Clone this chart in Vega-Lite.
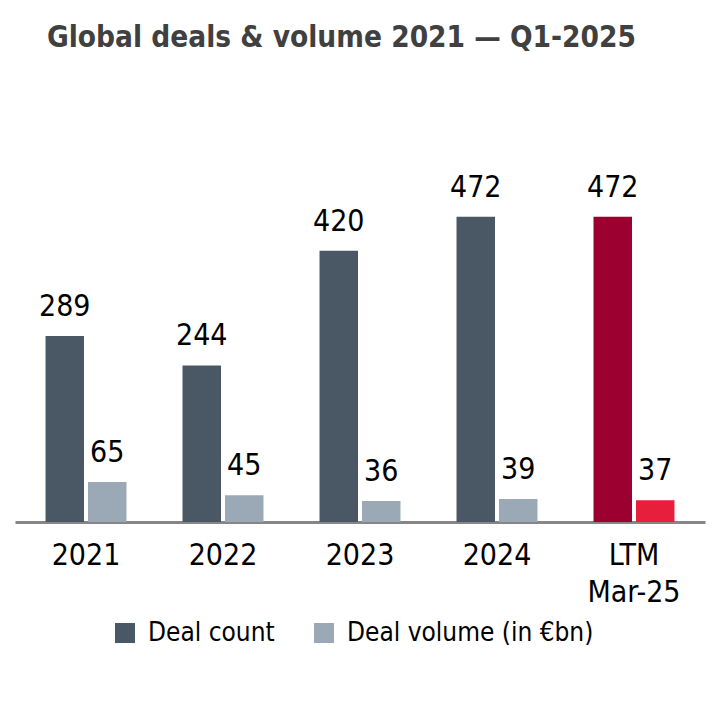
{
  "$schema": "https://vega.github.io/schema/vega-lite/v6.json",
  "width": 690,
  "height": 400,
  "autosize": "none",
  "padding": {"left": 15, "top": 122, "right": 18, "bottom": 197},
  "background": "white",
  "title": {
    "text": "Global deals & volume 2021 — Q1-2025",
    "anchor": "start",
    "frame": "group",
    "dx": 32,
    "offset": 46,
    "baseline": "alphabetic",
    "font": "DejaVu Sans Condensed, DejaVu Sans",
    "fontSize": 29.5,
    "fontWeight": "bold",
    "color": "#404040"
  },
  "config": {"view": {"stroke": null}},
  "data": {
    "values": [
      {"cat": "2021", "series": "Deal count", "key": "Deal count", "value": 289},
      {"cat": "2021", "series": "Deal volume (in €bn)", "key": "Deal volume (in €bn)", "value": 65},
      {"cat": "2022", "series": "Deal count", "key": "Deal count", "value": 244},
      {"cat": "2022", "series": "Deal volume (in €bn)", "key": "Deal volume (in €bn)", "value": 45},
      {"cat": "2023", "series": "Deal count", "key": "Deal count", "value": 420},
      {"cat": "2023", "series": "Deal volume (in €bn)", "key": "Deal volume (in €bn)", "value": 36},
      {"cat": "2024", "series": "Deal count", "key": "Deal count", "value": 472},
      {"cat": "2024", "series": "Deal volume (in €bn)", "key": "Deal volume (in €bn)", "value": 39},
      {"cat": "LTM Mar-25", "series": "Deal count", "key": "LTM deal count", "value": 472},
      {"cat": "LTM Mar-25", "series": "Deal volume (in €bn)", "key": "LTM deal volume", "value": 37}
    ]
  },
  "encoding": {
    "x": {
      "field": "cat",
      "type": "nominal",
      "sort": null,
      "scale": {"paddingInner": 0.409, "paddingOuter": 0.2228},
      "axis": {
        "title": null,
        "labelAngle": 0,
        "ticks": false,
        "grid": false,
        "domainColor": "#868686",
        "domainWidth": 3,
        "labelFont": "DejaVu Sans Condensed, DejaVu Sans",
        "labelFontSize": 30,
        "labelColor": "#000000",
        "labelPadding": 18,
        "labelBaseline": "top",
        "labelLineHeight": 37,
        "labelExpr": "datum.value == 'LTM Mar-25' ? ['LTM', 'Mar-25'] : datum.label"
      }
    },
    "xOffset": {
      "field": "series",
      "type": "nominal",
      "sort": null,
      "scale": {"paddingInner": 0.094, "paddingOuter": 0}
    },
    "y": {
      "field": "value",
      "type": "quantitative",
      "scale": {"domain": [3.8, 617.3], "zero": false, "nice": false},
      "axis": null
    }
  },
  "layer": [
    {
      "mark": {"type": "bar", "clip": true},
      "encoding": {
        "color": {
          "field": "key",
          "type": "nominal",
          "scale": {
            "domain": ["Deal count", "Deal volume (in €bn)", "LTM deal count", "LTM deal volume"],
            "range": ["#4a5866", "#9aa9b5", "#9b0030", "#e81e3d"]
          },
          "legend": {
            "values": ["Deal count", "Deal volume (in €bn)"],
            "title": null,
            "orient": "none",
            "legendX": 97,
            "legendY": 498,
            "direction": "horizontal",
            "symbolType": "square",
            "symbolSize": 400,
            "symbolStrokeWidth": 0,
            "symbolOpacity": 1,
            "labelFont": "DejaVu Sans Condensed, DejaVu Sans",
            "labelFontSize": 26,
            "labelColor": "#000000",
            "labelLimit": 500,
            "labelOffset": 10,
            "columnPadding": 36
          }
        }
      }
    },
    {
      "mark": {
        "type": "text",
        "dy": -20,
        "baseline": "alphabetic",
        "font": "DejaVu Sans Condensed, DejaVu Sans",
        "fontSize": 30,
        "color": "#000000"
      },
      "encoding": {"text": {"field": "value", "type": "quantitative"}}
    }
  ]
}
